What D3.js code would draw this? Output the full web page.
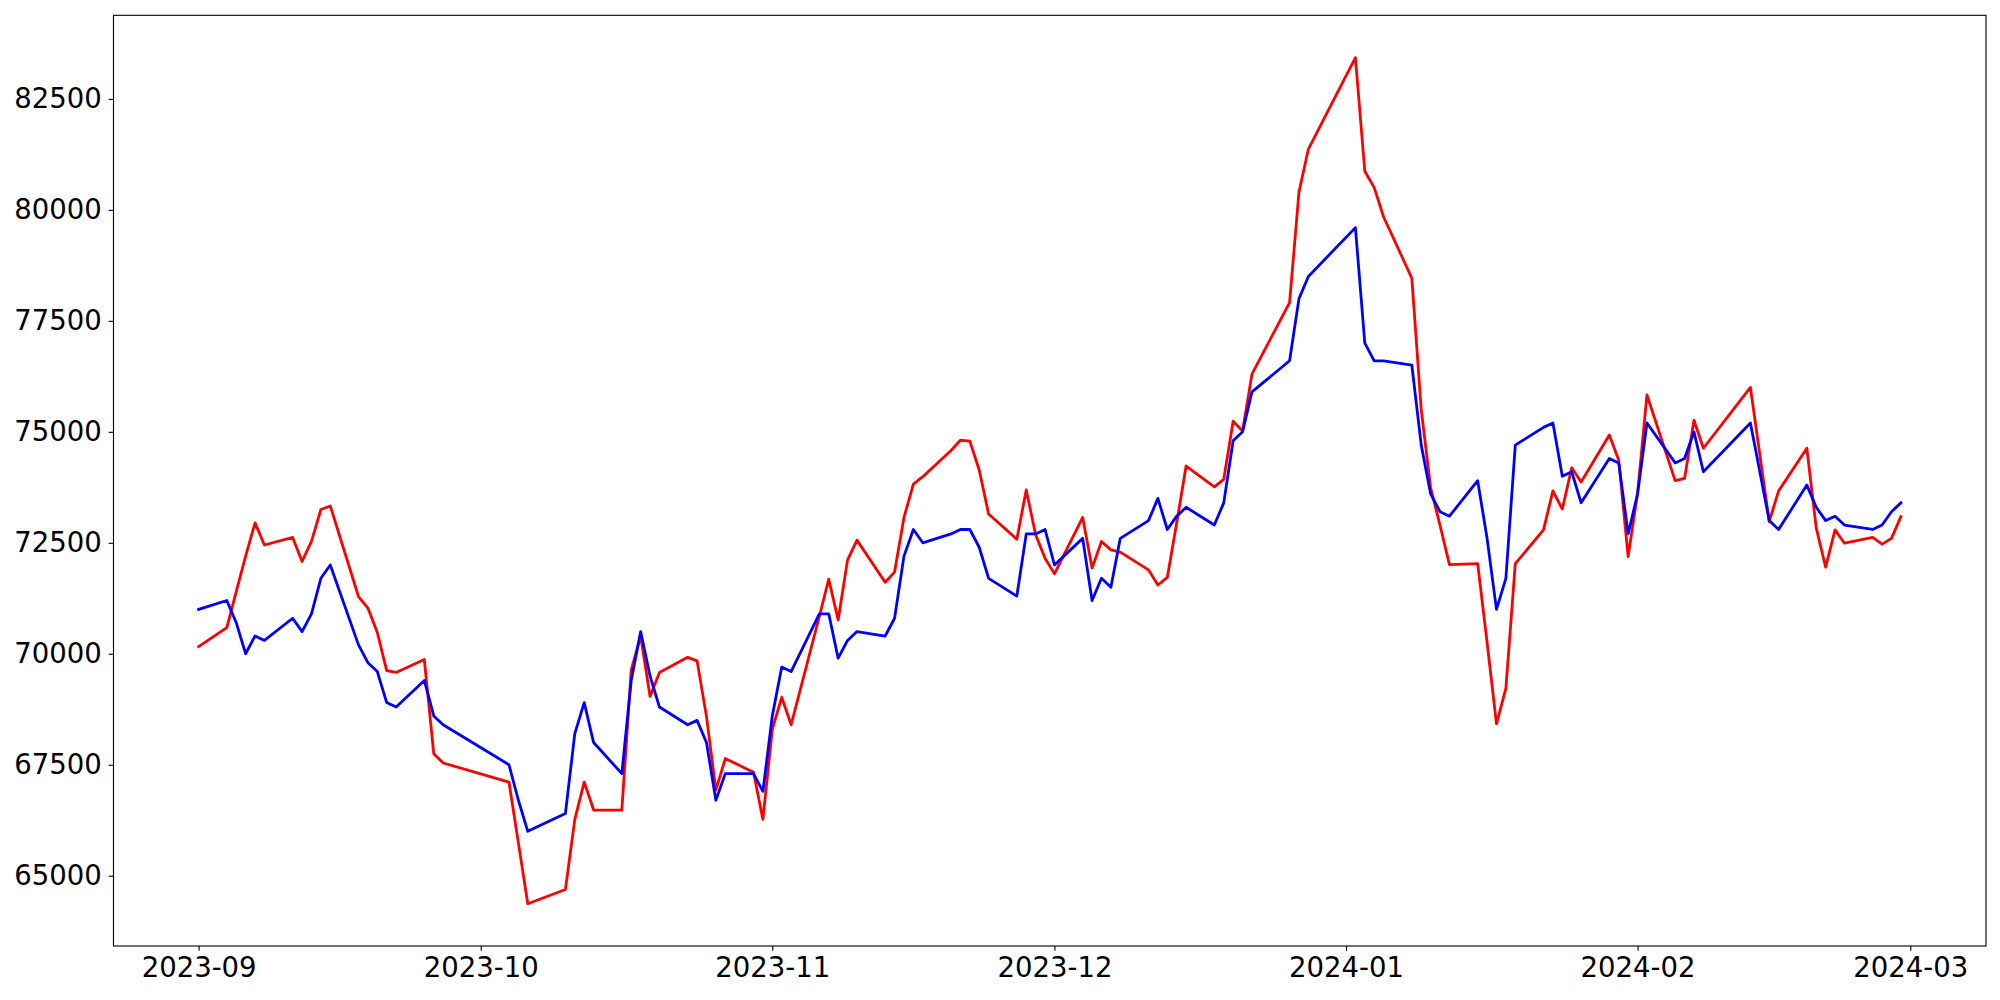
<!DOCTYPE html>
<html>
<head>
<meta charset="utf-8">
<script src="https://cdn.jsdelivr.net/npm/d3@7/dist/d3.min.js"></script>
<style>
  html, body { margin: 0; padding: 0; background: #ffffff; }
  svg { display: block; }
  text { font-family: "DejaVu Sans", sans-serif; }
</style>
</head>
<body>
<svg id="chart" width="2000" height="1000"></svg>
<script>
// ---- data ----
const dates = [
  "2023-09-01","2023-09-04","2023-09-05","2023-09-06","2023-09-07","2023-09-08",
  "2023-09-11","2023-09-12","2023-09-13","2023-09-14","2023-09-15",
  "2023-09-18","2023-09-19","2023-09-20","2023-09-21","2023-09-22",
  "2023-09-25","2023-09-26","2023-09-27",
  "2023-10-04","2023-10-05","2023-10-06",
  "2023-10-10","2023-10-11","2023-10-12","2023-10-13",
  "2023-10-16","2023-10-17","2023-10-18","2023-10-19","2023-10-20",
  "2023-10-23","2023-10-24","2023-10-25","2023-10-26","2023-10-27",
  "2023-10-30","2023-10-31",
  "2023-11-01","2023-11-02","2023-11-03",
  "2023-11-06","2023-11-07","2023-11-08","2023-11-09","2023-11-10",
  "2023-11-13","2023-11-14","2023-11-15","2023-11-16","2023-11-17",
  "2023-11-20","2023-11-21","2023-11-22","2023-11-23","2023-11-24",
  "2023-11-27","2023-11-28","2023-11-29","2023-11-30",
  "2023-12-01",
  "2023-12-04","2023-12-05","2023-12-06","2023-12-07","2023-12-08",
  "2023-12-11","2023-12-12","2023-12-13","2023-12-14","2023-12-15",
  "2023-12-18","2023-12-19","2023-12-20","2023-12-21","2023-12-22",
  "2023-12-26","2023-12-27","2023-12-28",
  "2024-01-02","2024-01-03","2024-01-04","2024-01-05",
  "2024-01-08","2024-01-09","2024-01-10","2024-01-11","2024-01-12",
  "2024-01-15","2024-01-16","2024-01-17","2024-01-18","2024-01-19",
  "2024-01-22","2024-01-23","2024-01-24","2024-01-25","2024-01-26",
  "2024-01-29","2024-01-30","2024-01-31",
  "2024-02-01","2024-02-02",
  "2024-02-05","2024-02-06","2024-02-07","2024-02-08",
  "2024-02-13","2024-02-14","2024-02-15","2024-02-16",
  "2024-02-19","2024-02-20","2024-02-21","2024-02-22","2024-02-23",
  "2024-02-26","2024-02-27","2024-02-28","2024-02-29"
];

const redValues = [
  70160,70590,71400,72200,72950,72450,
  72620,72080,72530,73250,73330,
  71290,71030,70480,69620,69580,
  69870,67750,67540,
  67110,65740,64370,
  64690,66270,67110,66480,
  66480,69640,70400,69040,69580,
  69920,69840,68590,66930,67640,
  67330,66270,
  68300,69020,68400,
  70840,71680,70760,72110,72560,
  71610,71840,73070,73820,73990,
  74580,74810,74790,74140,73150,
  72580,73690,72680,72150,
  71800,
  73070,71930,72530,72340,72290,
  71890,71550,71720,72950,74230,
  73760,73930,75240,75020,76300,
  77910,80400,81370,
  83430,80870,80500,79840,
  78460,75500,73740,72890,72010,
  72030,70260,68420,69220,72030,
  72790,73670,73260,74190,73870,
  74930,74360,72190,
  73610,75830,
  73900,73950,75260,74630,
  76000,74490,72980,73670,
  74630,72830,71950,72790,72490,
  72620,72470,72600,73090
];

const blueValues = [
  71000,71200,70700,70000,70400,70300,
  70800,70500,70900,71700,72000,
  70200,69800,69600,68900,68800,
  69400,68600,68400,
  67500,66700,66000,
  66400,68200,68900,68000,
  67300,69400,70500,69500,68800,
  68400,68500,68000,66700,67300,
  67300,66900,
  68600,69700,69600,
  70900,70900,69900,70300,70500,
  70400,70800,72200,72800,72500,
  72700,72800,72800,72400,71700,
  71300,72700,72700,72800,
  72000,
  72600,71200,71700,71500,72600,
  73000,73500,72800,73100,73300,
  72900,73400,74800,75000,75900,
  76600,78000,78500,
  79600,77000,76600,76600,
  76500,74700,73600,73200,73100,
  73900,72600,71000,71700,74700,
  75100,75200,74000,74100,73400,
  74400,74300,72700,
  73600,75200,
  74300,74400,75000,74100,
  75200,74100,73000,72800,
  73800,73300,73000,73100,72900,
  72800,72900,73200,73400
];

const yTickValues = [65000, 67500, 70000, 72500, 75000, 77500, 80000, 82500];
const xTickLabels = ["2023-09","2023-10","2023-11","2023-12","2024-01","2024-02","2024-03"];

// ---- layout ----
const W = 2000, H = 1000;
const plot = { left: 113.5, right: 1986, top: 15.3, bottom: 946 };
const fontSize = 27.5;

const parse = d3.utcParse("%Y-%m-%d");
const parseMonth = d3.utcParse("%Y-%m");
const xDates = dates.map(parse);

const series = [
  { name: "red", color: "#ff0000", values: redValues },
  { name: "blue", color: "#0000ff", values: blueValues }
];

// matplotlib-style 5% margins
const xExt = d3.extent(xDates);
const xSpan = xExt[1] - xExt[0];
const x = d3.scaleUtc()
  .domain([new Date(+xExt[0] - 0.05 * xSpan), new Date(+xExt[1] + 0.05 * xSpan)])
  .range([plot.left, plot.right]);

const allVals = redValues.concat(blueValues);
const yMin = d3.min(allVals), yMax = d3.max(allVals);
const ySpan = yMax - yMin;
const y = d3.scaleLinear()
  .domain([yMin - 0.05 * ySpan, yMax + 0.05 * ySpan])
  .range([plot.bottom, plot.top]);

const svg = d3.select("#chart");
svg.append("rect").attr("x", 0).attr("y", 0).attr("width", W).attr("height", H).attr("fill", "#ffffff");

// clip
svg.append("clipPath").attr("id", "clip")
  .append("rect")
  .attr("x", plot.left).attr("y", plot.top)
  .attr("width", plot.right - plot.left).attr("height", plot.bottom - plot.top);

const lineGen = vals => d3.line()
  .x((d, i) => x(xDates[i]))
  .y(d => y(d))(vals);

const g = svg.append("g").attr("clip-path", "url(#clip)");
series.forEach(s => {
  g.append("path")
    .attr("d", lineGen(s.values))
    .attr("fill", "none")
    .attr("stroke", s.color)
    .attr("stroke-width", 2.8)
    .attr("stroke-linejoin", "round")
    .attr("stroke-linecap", "square");
});

// axes
const tickLen = 4.86;
const xAxis = d3.axisBottom(x)
  .tickValues(xTickLabels.map(parseMonth))
  .tickFormat(d3.utcFormat("%Y-%m"))
  .tickSizeInner(tickLen).tickSizeOuter(0).tickPadding(7);
const yAxis = d3.axisLeft(y)
  .tickValues(yTickValues)
  .tickFormat(d3.format("d"))
  .tickSizeInner(tickLen).tickSizeOuter(0).tickPadding(7);

const gx = svg.append("g").attr("transform", `translate(0,${plot.bottom})`).call(xAxis);
const gy = svg.append("g").attr("transform", `translate(${plot.left},0)`).call(yAxis);
[gx, gy].forEach(a => {
  a.select(".domain").remove();
  a.selectAll(".tick line").attr("stroke", "#000").attr("stroke-width", 1.1);
  a.selectAll(".tick text").attr("fill", "#000").style("font-size", fontSize + "px")
    .style("font-family", "'DejaVu Sans', sans-serif");
});

// spines
svg.append("rect")
  .attr("x", plot.left).attr("y", plot.top)
  .attr("width", plot.right - plot.left).attr("height", plot.bottom - plot.top)
  .attr("fill", "none").attr("stroke", "#000").attr("stroke-width", 1.1);
</script>
</body>
</html>
